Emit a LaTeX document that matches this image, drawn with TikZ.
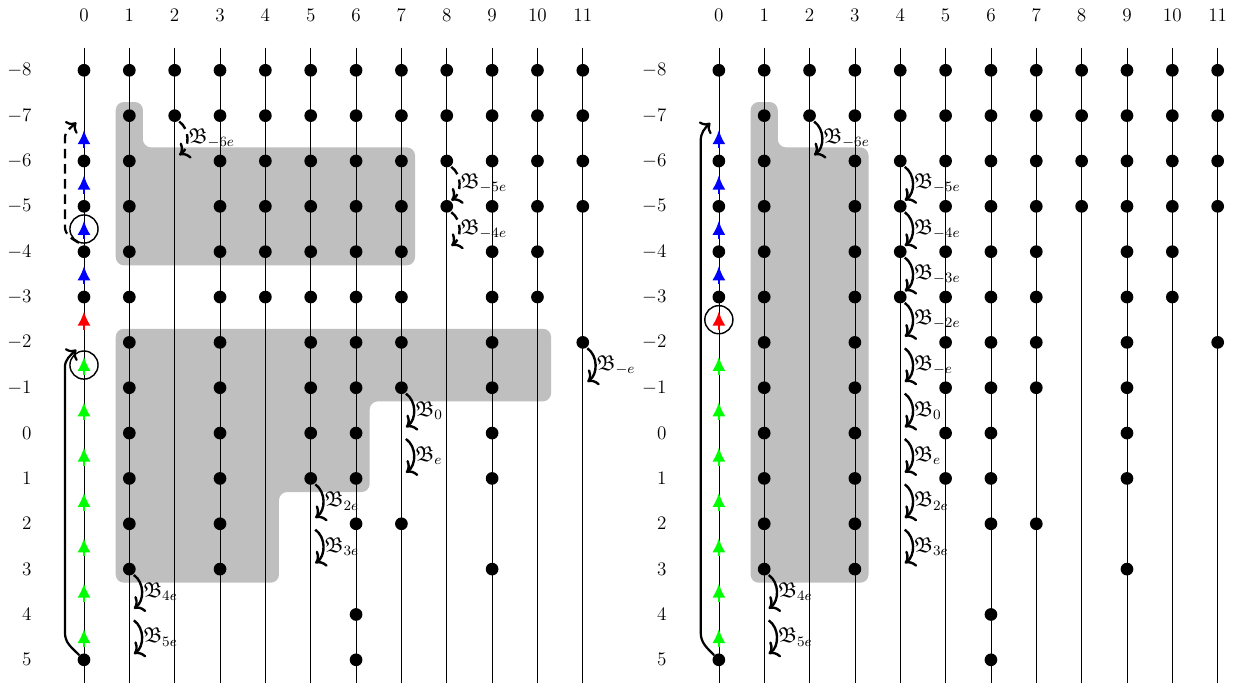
\documentclass[tikz,border=0pt]{standalone}
\usepackage{amssymb}
\usetikzlibrary{arrows.meta}
\tikzset{
  txt/.style={font=\large},
  dotnode/.style={circle, fill=black, inner sep=0pt, minimum size=0.28cm},
  upar/.style={line width=1.3pt, -{Latex[length=3.1mm,width=2.9mm]}},
  barr/.style={line width=1.5pt, -{To[length=2mm,width=4.2mm]}},
  loopar/.style={line width=1.4pt, -{To[length=1.8mm,width=3.8mm]}},
  ring/.style={draw, line width=0.9pt, circle, minimum size=0.62cm, inner sep=0pt},
  shade/.style={fill=lightgray, rounded corners=0.18cm},
  blabel/.style={txt, anchor=west, inner sep=1pt, scale=1.12, transform shape},
  dashes/.style={dash pattern=on 6pt off 3.5pt}
}
\newcommand{\gridpanel}[1]{%
  \foreach \c in {0,...,11} {
    \draw (\c,8.5) -- (\c,-5.6);
    \node[txt] (#1col\c) at (\c,9.22) {$\c$};
  }
  \foreach \r in {-8,...,5}
    \node[txt,anchor=east,inner sep=0pt] (#1row\r) at (-1.15,{-1*\r}) {$\r$};
  \foreach \r/\cols in {-8/{0,1,2,3,4,5,6,7,8,9,10,11},
                        -7/{1,2,3,4,5,6,7,8,9,10,11},
                        -6/{0,1,3,4,5,6,7,8,9,10,11},
                        -5/{0,1,3,4,5,6,7,8,9,10,11},
                        -4/{0,1,3,4,5,6,7,9,10},
                        -3/{0,1,3,4,5,6,7,9,10},
                        -2/{1,3,5,6,7,9,11},
                        -1/{1,3,5,6,7,9},
                        0/{1,3,5,6,9},
                        1/{1,3,5,6,9},
                        2/{1,3,6,7},
                        3/{1,3,9},
                        4/{6},
                        5/{0,6}} {
    \foreach \c in \cols
      \node[dotnode] (#1d\c r\r) at (\c,{-1*\r}) {};
  }
  \foreach \h/\cl in {6.5/blue,5.5/blue,4.5/blue,3.5/blue,2.5/red,
                      1.5/green,0.5/green,-0.5/green,-1.5/green,
                      -2.5/green,-3.5/green,-4.5/green}
    \draw[upar,\cl] (0,\h-0.22) -- (0,\h+0.18);
}
\newcommand{\fkarrow}[4][]{%
  \draw[barr,#1] (#2+0.1,#3-0.13) to[bend left=55] (#2+0.1,#3-0.87);
  \node[blabel] at (#2+0.26,#3-0.5) {$\mathfrak{B}_{#4}$};
}
\begin{document}
\begin{tikzpicture}
\useasboundingbox (-1.852,-5.51) rectangle (25.36,9.55);
% ---------- left panel ----------
\fill[shade] (0.7,7.3) -- (1.3,7.3) -- (1.3,6.3) -- (7.3,6.3) -- (7.3,3.7) -- (0.7,3.7) -- cycle;
\fill[shade] (0.7,2.3) -- (10.3,2.3) -- (10.3,0.7) -- (6.3,0.7) -- (6.3,-1.3)
   -- (4.3,-1.3) -- (4.3,-3.3) -- (0.7,-3.3) -- cycle;
\gridpanel{L}
\node[ring] (Lring1) at (0,4.5) {};
\node[ring] (Lring2) at (0,1.5) {};
\draw[loopar,dashes] (Lring1.250) to[out=150,in=-90] (-0.42,4.55) -- (-0.42,6.5)
   to[out=90,in=225] (-0.17,6.85);
\draw[loopar] (Ld0r5.135) to[out=135,in=-90] (-0.42,-4.4) -- (-0.42,1.45)
   to[out=90,in=225] (-0.17,1.84);
\fkarrow[dashes]{2}{7}{-6e}
\fkarrow[dashes]{8}{6}{-5e}
\fkarrow[dashes]{8}{5}{-4e}
\fkarrow{11}{2}{-e}
\fkarrow{7}{1}{0}
\fkarrow{7}{0}{e}
\fkarrow{5}{-1}{2e}
\fkarrow{5}{-2}{3e}
\fkarrow{1}{-3}{4e}
\fkarrow{1}{-4}{5e}
% ---------- right panel ----------
\begin{scope}[xshift=14cm]
\fill[shade] (0.7,7.3) -- (1.3,7.3) -- (1.3,6.3) -- (3.3,6.3) -- (3.3,-3.3) -- (0.7,-3.3) -- cycle;
\gridpanel{R}
\node[ring] (Rring) at (0,2.5) {};
\draw[loopar] (Rd0r5.135) to[out=135,in=-90] (-0.40,-4.4) -- (-0.40,6.45)
   to[out=90,in=225] (-0.19,6.84);
\fkarrow{2}{7}{-6e}
\fkarrow{4}{6}{-5e}
\fkarrow{4}{5}{-4e}
\fkarrow{4}{4}{-3e}
\fkarrow{4}{3}{-2e}
\fkarrow{4}{2}{-e}
\fkarrow{4}{1}{0}
\fkarrow{4}{0}{e}
\fkarrow{4}{-1}{2e}
\fkarrow{4}{-2}{3e}
\fkarrow{1}{-3}{4e}
\fkarrow{1}{-4}{5e}
\end{scope}
\end{tikzpicture}
\end{document}
